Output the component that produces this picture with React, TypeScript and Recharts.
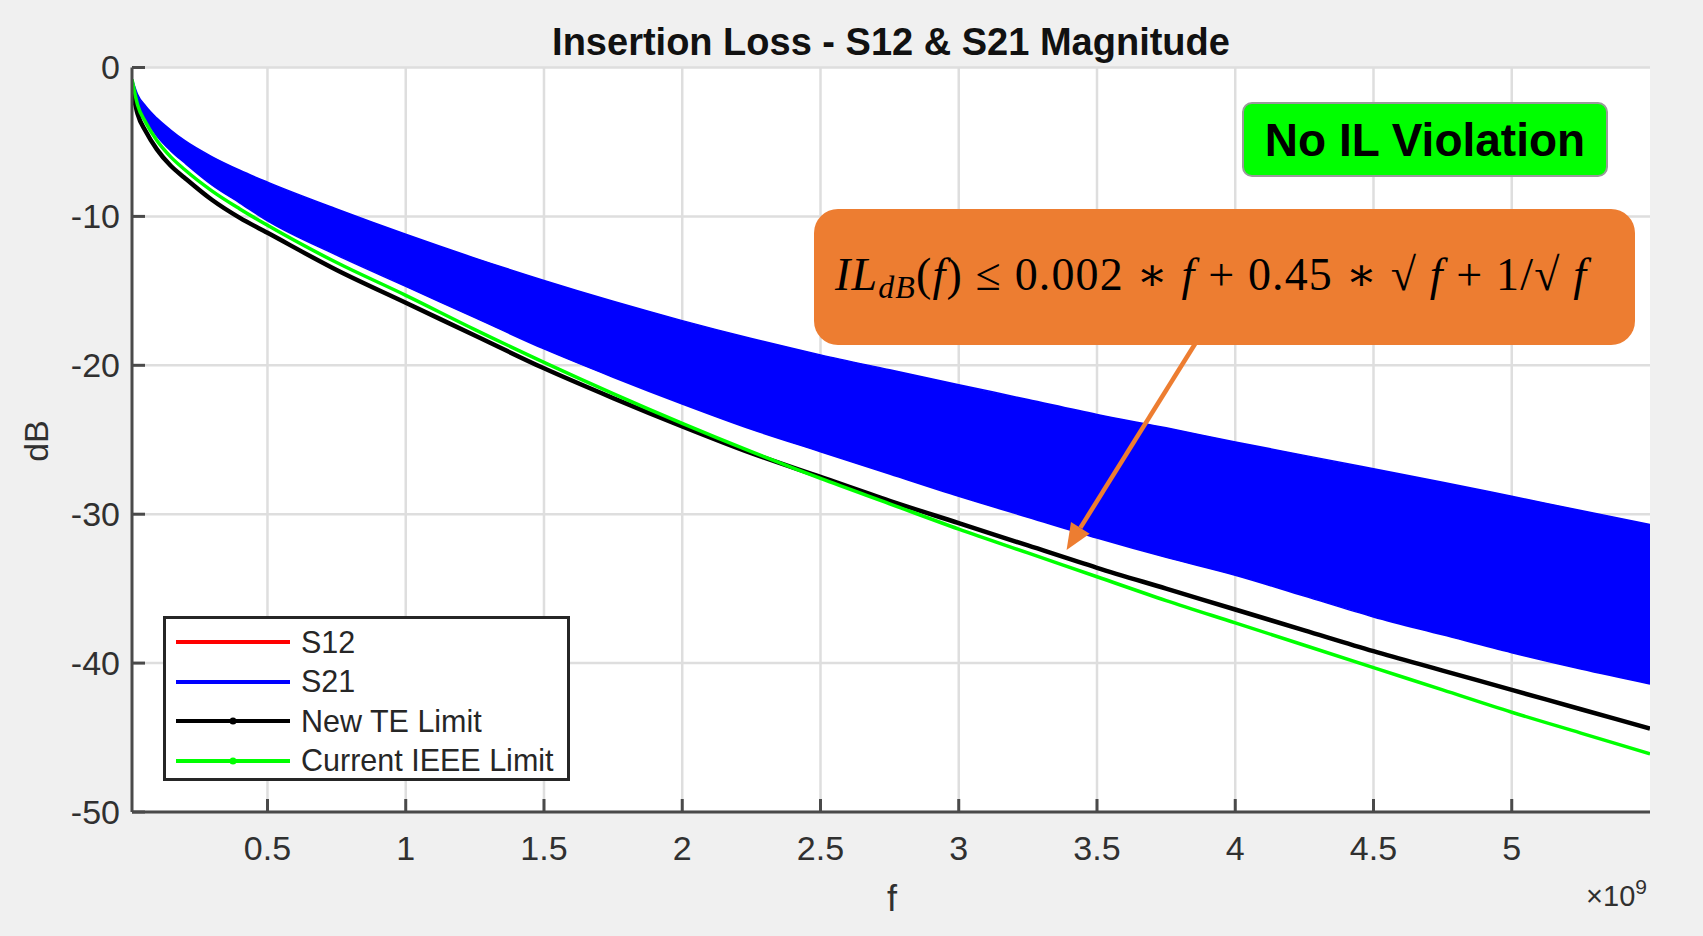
import React from 'react';
import { ComposedChart, Area, Line, XAxis, YAxis, CartesianGrid, ReferenceLine } from 'recharts';

// frequency in GHz (axis shows x10^9)
const freqGHz = [0.01, 0.03, 0.06, 0.1, 0.15, 0.2, 0.3, 0.4, 0.5, 0.75, 1.0, 1.25, 1.5, 1.75, 2.0, 2.25, 2.5, 2.75, 3.0, 3.25, 3.5, 3.75, 4.0, 4.25, 4.5, 4.75, 5.0, 5.25, 5.5];

// S21 ripple band (upper / lower envelope), dB
const s21Upper = [-0.7, -1.8, -2.6, -3.4, -4.2, -4.9, -6.0, -6.9, -7.7, -9.5, -11.2, -12.8, -14.3, -15.7, -17.0, -18.2, -19.3, -20.3, -21.3, -22.3, -23.3, -24.2, -25.15, -26.05, -26.95, -27.85, -28.8, -29.75, -30.7];
const s21Lower = [-0.9, -2.4, -3.5, -4.6, -5.6, -6.4, -7.9, -9.1, -10.3, -12.6, -14.7, -16.8, -18.9, -20.8, -22.6, -24.3, -25.8, -27.3, -28.8, -30.2, -31.6, -32.9, -34.1, -35.5, -36.9, -38.1, -39.3, -40.4, -41.4];

// limit lines, dB
const teLimit = [-1.4, -3.1, -4.3, -5.5, -6.6, -7.4, -8.9, -10.1, -11.1, -13.6, -15.8, -18.0, -20.2, -22.2, -24.1, -25.9, -27.5, -29.1, -30.6, -32.1, -33.6, -35.0, -36.4, -37.8, -39.2, -40.5, -41.8, -43.1, -44.4];
const ieeeLimit = [-0.8, -2.5, -3.7, -4.9, -6.0, -6.85, -8.3, -9.5, -10.6, -13.1, -15.3, -17.6, -19.8, -21.9, -23.9, -25.8, -27.6, -29.3, -31.0, -32.6, -34.2, -35.8, -37.3, -38.8, -40.3, -41.8, -43.3, -44.7, -46.1];

const xTicks = [0.5, 1, 1.5, 2, 2.5, 3, 3.5, 4, 4.5, 5];
const yTicks = [0, -10, -20, -30, -40, -50];

const legendItems = [
  { name: 'S12', color: '#ff0000', marker: false },
  { name: 'S21', color: '#0000ff', marker: false },
  { name: 'New TE Limit', color: '#000000', marker: true },
  { name: 'Current IEEE Limit', color: '#00ff00', marker: true },
];

// arrow from the formula box down to the TE limit curve
const arrowFrom = { x: 3.86, y: -18.4 };
const arrowTo = { x: 3.39, y: -32.4 };

const chartData = freqGHz.map((f, i) => ({
  f,
  s21: [s21Lower[i], s21Upper[i]],
  te: teLimit[i],
  ieee: ieeeLimit[i],
}));

const W = 1703;
const H = 936;
const PLOT = { left: 132, top: 67.5, right: 1650, bottom: 812 };
const Y_AXIS_W = 60;
const X_AXIS_H = 60;
const AXIS = '#4a4a4a';
const TXT = '#303030';
const FONT = '"Liberation Sans", Arial, Helvetica, sans-serif';

const XTick = (props: any) => {
  const { x, payload } = props;
  return (
    <g>
      <line x1={x} x2={x} y1={PLOT.bottom} y2={PLOT.bottom - 13} stroke={AXIS} strokeWidth={3} />
      <text x={x} y={PLOT.bottom + 36} dy="0.35em" textAnchor="middle" fontSize={34} fill={TXT} fontFamily={FONT}>
        {payload.value}
      </text>
    </g>
  );
};

const YTick = (props: any) => {
  const { y, payload } = props;
  return (
    <g>
      <line x1={PLOT.left} x2={PLOT.left + 13} y1={y} y2={y} stroke={AXIS} strokeWidth={3} />
      <text x={PLOT.left - 12} y={y} dy="0.35em" textAnchor="end" fontSize={34} fill={TXT} fontFamily={FONT}>
        {payload.value}
      </text>
    </g>
  );
};

const Arrow = (props: any) => {
  const { x1, y1, x2, y2 } = props;
  const dx = x1 - x2;
  const dy = y1 - y2;
  const len = Math.sqrt(dx * dx + dy * dy) || 1;
  const ux = dx / len;
  const uy = dy / len;
  const bx = x2 + ux * 26;
  const by = y2 + uy * 26;
  const px = -uy * 11;
  const py = ux * 11;
  return (
    <g>
      <line x1={x1} y1={y1} x2={bx} y2={by} stroke="#ed7d31" strokeWidth={4.5} />
      <polygon points={`${x2},${y2} ${bx + px},${by + py} ${bx - px},${by - py}`} fill="#ed7d31" />
    </g>
  );
};

export default function App() {
  return (
    <div style={{ position: 'absolute', left: 0, top: 0, width: W, height: H, background: '#f0f0f0', fontFamily: FONT }}>
      <ComposedChart
        width={W}
        height={H}
        data={chartData}
        margin={{
          top: PLOT.top,
          left: PLOT.left - Y_AXIS_W,
          right: W - PLOT.right,
          bottom: H - PLOT.bottom - X_AXIS_H,
        }}
      >
        <CartesianGrid
          stroke="#dedede"
          strokeWidth={2.5}
          fill="#ffffff"
          horizontalValues={yTicks}
          verticalValues={xTicks}
        />
        <XAxis
          dataKey="f"
          type="number"
          domain={[0.01, 5.5]}
          ticks={xTicks}
          interval={0}
          allowDataOverflow
          height={X_AXIS_H}
          tickSize={0}
          tickLine={false}
          tick={<XTick />}
          axisLine={{ stroke: AXIS, strokeWidth: 3 }}
        />
        <YAxis
          type="number"
          domain={[-50, 0]}
          ticks={yTicks}
          interval={0}
          allowDataOverflow
          width={Y_AXIS_W}
          tickSize={0}
          tickLine={false}
          tick={<YTick />}
          axisLine={{ stroke: AXIS, strokeWidth: 3 }}
        />
        <Area
          type="monotone"
          dataKey="s21"
          name="S21"
          stroke="#0000ff"
          strokeWidth={1.5}
          fill="#0000ff"
          fillOpacity={1}
          dot={false}
          activeDot={false}
          isAnimationActive={false}
        />
        <Line type="monotone" dataKey="te" name="New TE Limit" stroke="#000000" strokeWidth={4.5} dot={false} activeDot={false} isAnimationActive={false} />
        <Line type="monotone" dataKey="ieee" name="Current IEEE Limit" stroke="#00ff00" strokeWidth={3.5} dot={false} activeDot={false} isAnimationActive={false} />
        <ReferenceLine segment={[arrowFrom, arrowTo]} ifOverflow="visible" shape={<Arrow />} />
      </ComposedChart>

      {/* titles and axis labels */}
      <svg width={W} height={H} style={{ position: 'absolute', left: 0, top: 0, pointerEvents: 'none' }}>
        <text x={891} y={55} textAnchor="middle" fontSize={38} fontWeight={700} fill="#111" fontFamily={FONT}>
          Insertion Loss - S12 &amp; S21 Magnitude
        </text>
        <text x={0} y={0} transform="translate(48,441) rotate(-90)" textAnchor="middle" fontSize={34} fill={TXT} fontFamily={FONT}>
          dB
        </text>
        <text x={892} y={911} textAnchor="middle" fontSize={36} fill={TXT} fontFamily={FONT}>
          f
        </text>
        <text x={1647} y={906} textAnchor="end" fontSize={29} fill={TXT} fontFamily={FONT}>
          ×10<tspan dy={-12} fontSize={21}>9</tspan>
        </text>
      </svg>

      {/* legend */}
      <div
        style={{
          position: 'absolute',
          left: 163,
          top: 616,
          width: 401,
          height: 159,
          border: '3px solid #262626',
          background: '#ffffff',
        }}
      >
        {legendItems.map((it, i) => (
          <div key={it.name} style={{ position: 'absolute', left: 0, top: 4 + i * 39.5, height: 38, display: 'flex', alignItems: 'center' }}>
            <svg width={130} height={38} style={{ display: 'block' }}>
              <line x1={10} x2={124} y1={19} y2={19} stroke={it.color} strokeWidth={4} />
              {it.marker && <circle cx={67} cy={19} r={3.5} fill={it.color} />}
            </svg>
            <span style={{ fontSize: 30.5, color: '#262626', marginLeft: 5, whiteSpace: 'nowrap' }}>{it.name}</span>
          </div>
        ))}
      </div>

      {/* status badge */}
      <div
        style={{
          position: 'absolute',
          left: 1242,
          top: 102,
          width: 362,
          height: 71,
          borderRadius: 10,
          border: '2px solid #9a9a9a',
          background: '#00ff00',
          display: 'flex',
          alignItems: 'center',
          justifyContent: 'center',
          fontSize: 46,
          fontWeight: 700,
          color: '#000',
        }}
      >
        No IL Violation
      </div>

      {/* formula box */}
      <div
        style={{
          position: 'absolute',
          left: 814,
          top: 209,
          width: 821,
          height: 136,
          borderRadius: 24,
          background: '#ed7d31',
        }}
      >
        <svg width={821} height={136} style={{ display: 'block' }}>
          <text
            x={21}
            y={81}
            textLength={751}
            lengthAdjust="spacing"
            fontSize={46}
            fill="#000"
            fontFamily='"Liberation Serif", "DejaVu Serif", serif'
          >
            <tspan fontStyle="italic">IL</tspan>
            <tspan fontStyle="italic" fontSize={32} dy={8}>dB</tspan>
            <tspan dy={-8}>(</tspan>
            <tspan fontStyle="italic">f</tspan>
            <tspan>) ≤ 0.002 ∗ </tspan>
            <tspan fontStyle="italic">f</tspan>
            <tspan> + 0.45 ∗ √ </tspan>
            <tspan fontStyle="italic">f</tspan>
            <tspan> + 1/√ </tspan>
            <tspan fontStyle="italic">f</tspan>
          </text>
        </svg>
      </div>
    </div>
  );
}
